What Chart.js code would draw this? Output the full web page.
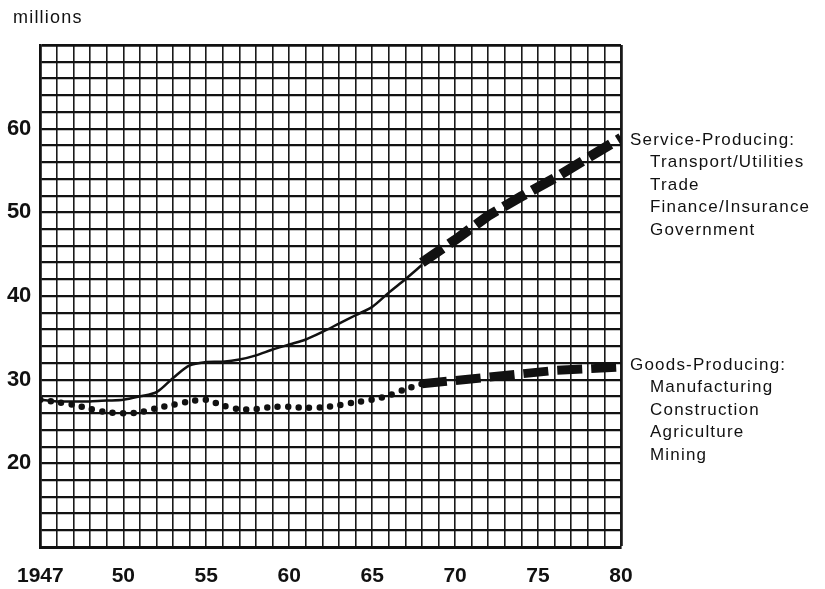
<!DOCTYPE html>
<html>
<head>
<meta charset="utf-8">
<script src="https://cdn.jsdelivr.net/npm/chart.js@4.4.0/dist/chart.umd.min.js"></script>
<style>
html, body { margin: 0; padding: 0; background: #fff; }
#wrap { position: relative; width: 825px; height: 589px; }
</style>
</head>
<body>
<div id="wrap"><canvas id="chart" width="825" height="589"></canvas></div>
<script>
// DATA (millions of jobs; grid columns are years, left edge labelled 1947)
const serviceYears = [1945,1946,1947,1948,1949,1950,1951,1952,1953,1954,1955,1956,1957,1958,1959,1960,1961,1962,1963,1964,1965,1966,1967,1968];
const serviceValues = [27.6,27.4,27.4,27.4,27.5,27.6,28.0,28.5,30.2,31.7,32.1,32.15,32.4,32.9,33.6,34.2,34.8,35.7,36.7,37.7,38.7,40.4,42.0,43.7];
const serviceProjYears = [1968,1970,1972,1974,1976,1978,1980];
const serviceProjValues = [44.0,46.7,49.6,51.9,54.1,56.5,58.9];

const goodsYears = [1945,1946,1947,1948,1949,1950,1951,1952,1953,1954,1955,1956,1957,1958,1959,1960,1961,1962,1963,1964,1965,1966,1967,1968];
const goodsValues = [27.6,27.3,27.0,26.5,26.1,26.0,26.1,26.6,27.0,27.4,27.6,26.9,26.45,26.5,26.75,26.75,26.65,26.7,26.95,27.3,27.6,28.1,28.85,29.5];
const goodsProjYears = [1968,1970,1972,1974,1976,1978,1980];
const goodsProjValues = [29.5,29.9,30.3,30.7,31.1,31.3,31.5];

const xTickLabels = {1945: "1947", 1950: "50", 1955: "55", 1960: "60", 1965: "65", 1970: "70", 1975: "75", 1980: "80"};
const yTickLabels = [20, 30, 40, 50, 60];

const serviceLegend = ["Service-Producing:", "Transport/Utilities", "Trade", "Finance/Insurance", "Government"];
const goodsLegend = ["Goods-Producing:", "Manufacturing", "Construction", "Agriculture", "Mining"];

const toPoints = (xs, ys) => xs.map((x, i) => ({x: x, y: ys[i]}));
const INK = "#111";
const FONT = '"Liberation Sans", Arial, sans-serif';

// TEXTOS: "millions" e legendas ao lado das linhas
const textPlugin = {
    id: "texts",
    afterDraw(chart) {
        const ctx = chart.ctx;
        const y = chart.scales.y;
        const left = chart.chartArea.right + 9;
        ctx.save();
        ctx.fillStyle = INK;
        ctx.textBaseline = "middle";
        ctx.letterSpacing = "1.2px";
        ctx.font = "18px " + FONT;
        ctx.fillText("millions", 13, 18);

        function block(lines, yTop) {
            ctx.font = "17px " + FONT;
            lines.forEach((t, i) => {
                ctx.fillText(t, i === 0 ? left : left + 20, yTop + i * 22.5);
            });
        }
        block(serviceLegend, y.getPixelForValue(serviceProjValues[serviceProjValues.length - 1]) + 2);
        block(goodsLegend, y.getPixelForValue(goodsProjValues[goodsProjValues.length - 1]) - 2);
        ctx.restore();
    }
};

new Chart(document.getElementById("chart"), {
    type: "line",
    data: {
        datasets: [
            {
                label: "Service-Producing",
                data: toPoints(serviceYears, serviceValues),
                borderColor: INK, borderWidth: 2.5, tension: 0.3, pointRadius: 0
            },
            {
                label: "Service-Producing (projected)",
                data: toPoints(serviceProjYears, serviceProjValues),
                borderColor: INK, borderWidth: 10, borderDash: [25, 8], borderCapStyle: "butt",
                tension: 0, pointRadius: 0
            },
            {
                label: "Goods-Producing",
                data: toPoints(goodsYears, goodsValues),
                borderColor: INK, borderWidth: 6.5, borderDash: [0, 10.5], borderCapStyle: "round",
                tension: 0.3, pointRadius: 0
            },
            {
                label: "Goods-Producing (projected)",
                data: toPoints(goodsProjYears, goodsProjValues),
                borderColor: INK, borderWidth: 9, borderDash: [25, 9], borderCapStyle: "butt",
                tension: 0, pointRadius: 0
            }
        ]
    },
    options: {
        responsive: false,
        animation: false,
        layout: { padding: { top: 45, right: 204, bottom: 0, left: 0 } },
        plugins: { legend: { display: false }, tooltip: { enabled: false } },
        scales: {
            x: {
                type: "linear", min: 1945, max: 1980,
                afterFit: s => { s.height = 42; },
                ticks: {
                    stepSize: 1, autoSkip: false, maxRotation: 0, padding: 17,
                    color: INK, font: { family: FONT, size: 21, weight: "bold" },
                    callback: v => xTickLabels[v] || ""
                },
                grid: {
                    color: "#1a1a1a", drawTicks: false,
                    lineWidth: c => (c.tick && c.tick.value === 1980) ? 2.8 : 1.6
                },
                border: { color: INK, width: 3 }
            },
            y: {
                min: 10, max: 70,
                afterFit: s => { s.width = 39; },
                ticks: {
                    stepSize: 2, autoSkip: false, padding: 9,
                    color: INK, font: { family: FONT, size: 22, weight: "bold" },
                    callback: v => yTickLabels.includes(v) ? String(v) : ""
                },
                grid: {
                    color: "#111", drawTicks: false,
                    lineWidth: c => (c.tick && c.tick.value === 70) ? 2.8 : 2.2
                },
                border: { color: INK, width: 2.5 }
            }
        }
    },
    plugins: [textPlugin]
});
</script>
</body>
</html>
